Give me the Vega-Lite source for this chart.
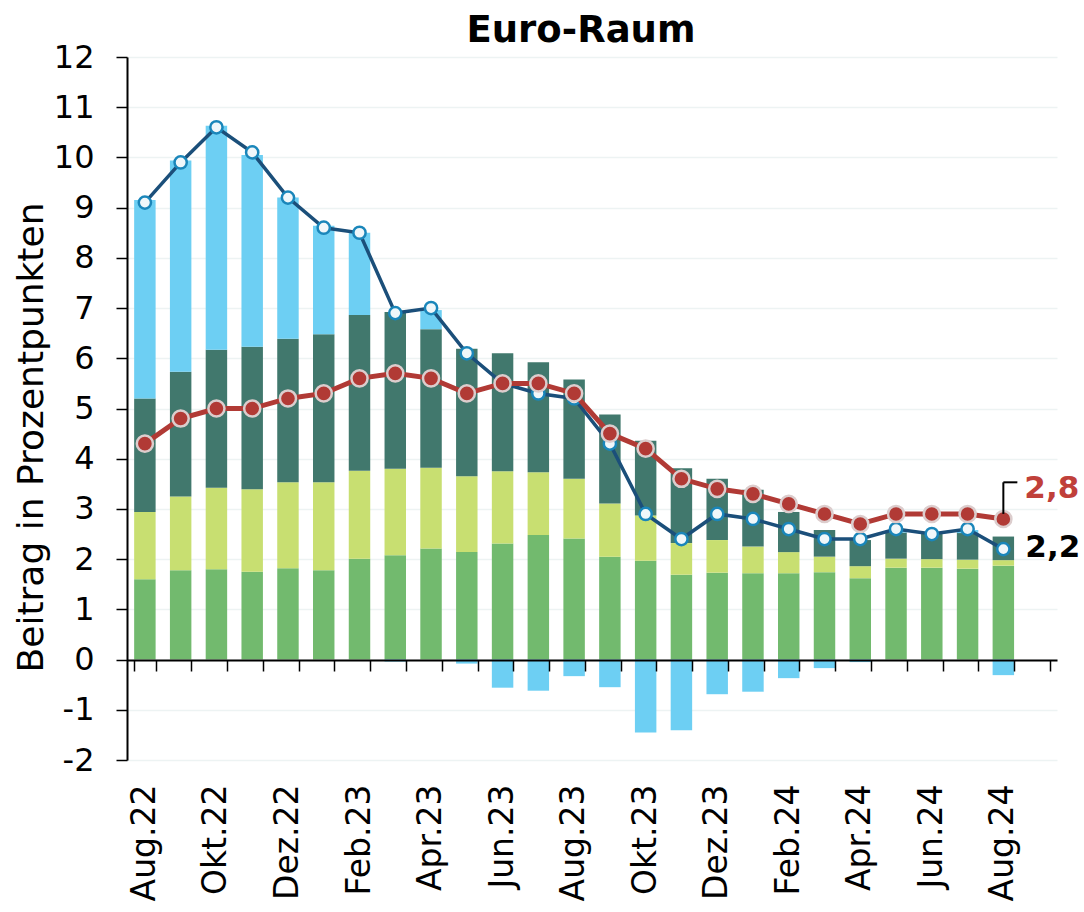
{
  "$schema": "https://vega.github.io/schema/vega-lite/v6.json",
  "width": 930,
  "height": 703,
  "autosize": {"type": "none"},
  "padding": {"left": 127, "top": 57, "right": 27, "bottom": 152},
  "background": "white",
  "title": {"text": "Euro-Raum", "font": "DejaVu Sans", "fontSize": 37, "fontWeight": "bold", "color": "black", "frame": "group", "anchor": "middle", "dx": -11, "offset": 14, "dy": 23},
  "config": {"view": {"stroke": null}, "font": "DejaVu Sans"},
  "data": {"values": [
    {"m": "Aug.22", "S": 1.60, "N": 1.34, "F": 2.26, "E": 3.95, "H": 9.1, "C": 4.3},
    {"m": "Sep.22", "S": 1.78, "N": 1.47, "F": 2.48, "E": 4.21, "H": 9.9, "C": 4.8},
    {"m": "Okt.22", "S": 1.80, "N": 1.62, "F": 2.75, "E": 4.46, "H": 10.6, "C": 5.0},
    {"m": "Nov.22", "S": 1.75, "N": 1.64, "F": 2.84, "E": 3.82, "H": 10.1, "C": 5.0},
    {"m": "Dez.22", "S": 1.82, "N": 1.71, "F": 2.86, "E": 2.81, "H": 9.2, "C": 5.2},
    {"m": "Jan.23", "S": 1.78, "N": 1.75, "F": 2.95, "E": 2.16, "H": 8.6, "C": 5.3},
    {"m": "Feb.23", "S": 2.01, "N": 1.75, "F": 3.10, "E": 1.64, "H": 8.5, "C": 5.6},
    {"m": "Mär.23", "S": 2.08, "N": 1.72, "F": 3.12, "E": -0.04, "H": 6.9, "C": 5.7},
    {"m": "Apr.23", "S": 2.21, "N": 1.61, "F": 2.76, "E": 0.38, "H": 7.0, "C": 5.6},
    {"m": "Mai.23", "S": 2.14, "N": 1.51, "F": 2.54, "E": -0.08, "H": 6.1, "C": 5.3},
    {"m": "Jun.23", "S": 2.31, "N": 1.44, "F": 2.35, "E": -0.56, "H": 5.5, "C": 5.5},
    {"m": "Jul.23", "S": 2.48, "N": 1.25, "F": 2.19, "E": -0.62, "H": 5.3, "C": 5.5},
    {"m": "Aug.23", "S": 2.41, "N": 1.19, "F": 1.98, "E": -0.33, "H": 5.2, "C": 5.3},
    {"m": "Sep.23", "S": 2.05, "N": 1.06, "F": 1.77, "E": -0.55, "H": 4.3, "C": 4.5},
    {"m": "Okt.23", "S": 1.97, "N": 0.90, "F": 1.49, "E": -1.45, "H": 2.9, "C": 4.2},
    {"m": "Nov.23", "S": 1.69, "N": 0.63, "F": 1.49, "E": -1.41, "H": 2.4, "C": 3.6},
    {"m": "Dez.23", "S": 1.73, "N": 0.65, "F": 1.22, "E": -0.69, "H": 2.9, "C": 3.4},
    {"m": "Jan.24", "S": 1.72, "N": 0.53, "F": 1.13, "E": -0.64, "H": 2.8, "C": 3.3},
    {"m": "Feb.24", "S": 1.72, "N": 0.42, "F": 0.80, "E": -0.37, "H": 2.6, "C": 3.1},
    {"m": "Mär.24", "S": 1.74, "N": 0.31, "F": 0.53, "E": -0.17, "H": 2.4, "C": 2.9},
    {"m": "Apr.24", "S": 1.62, "N": 0.24, "F": 0.52, "E": -0.05, "H": 2.4, "C": 2.7},
    {"m": "Mai.24", "S": 1.83, "N": 0.18, "F": 0.52, "E": 0.03, "H": 2.6, "C": 2.9},
    {"m": "Jun.24", "S": 1.83, "N": 0.17, "F": 0.50, "E": 0.0, "H": 2.5, "C": 2.9},
    {"m": "Jul.24", "S": 1.81, "N": 0.18, "F": 0.53, "E": 0.06, "H": 2.6, "C": 2.9},
    {"m": "Aug.24", "S": 1.87, "N": 0.11, "F": 0.47, "E": -0.31, "H": 2.2, "C": 2.8}
  ]},
  "resolve": {"scale": {"x": "shared", "y": "shared"}, "axis": {"x": "independent", "y": "shared"}},
  "layer": [
    {
      "transform": [{"fold": ["S", "N", "F", "E"], "as": ["k", "v"]}],
      "mark": {"type": "bar"},
      "encoding": {
        "x": {"field": "m", "type": "nominal", "sort": null,
          "scale": {"domain": ["Aug.22","Sep.22","Okt.22","Nov.22","Dez.22","Jan.23","Feb.23","Mär.23","Apr.23","Mai.23","Jun.23","Jul.23","Aug.23","Sep.23","Okt.23","Nov.23","Dez.23","Jan.24","Feb.24","Mär.24","Apr.24","Mai.24","Jun.24","Jul.24","Aug.24","Sep.24"], "paddingInner": 0.4, "paddingOuter": 0.2},
          "axis": {"orient": "bottom", "title": null, "domain": false, "ticks": false, "grid": false,
            "values": ["Aug.22","Okt.22","Dez.22","Feb.23","Apr.23","Jun.23","Aug.23","Okt.23","Dez.23","Feb.24","Apr.24","Jun.24","Aug.24"],
            "labelAngle": -90, "labelAlign": "right", "labelBaseline": "middle", "labelPadding": 24,
            "labelFont": "DejaVu Sans", "labelFontSize": 33, "labelColor": "black"}},
        "y": {"field": "v", "type": "quantitative", "stack": "zero", "title": "Beitrag in Prozentpunkten",
          "scale": {"domain": [-2, 12], "nice": false, "zero": false},
          "axis": {"values": [-2,-1,0,1,2,3,4,5,6,7,8,9,10,11,12], "labelExpr": "toString(datum.value)", "grid": true, "gridColor": "#EDF3F3", "gridWidth": 1.5,
            "domainColor": "black", "domainWidth": 2, "tickColor": "black", "tickWidth": 1.5, "tickSize": 11,
            "labelPadding": 22, "labelFont": "DejaVu Sans", "labelFontSize": 32, "labelColor": "black",
            "titleFont": "DejaVu Sans", "titleFontSize": 36, "titleFontWeight": "normal", "titleColor": "black",
            "titleX": -96, "titleY": 380, "titleAngle": -90, "titleBaseline": "middle", "titleAlign": "center"}},
        "color": {"field": "k", "type": "nominal", "sort": ["S", "N", "F", "E"],
          "scale": {"domain": ["S", "N", "F", "E"], "range": ["#72BA6E", "#C8DF71", "#41786D", "#6DCFF3"]},
          "legend": null}
      }
    },
    {
      "mark": {"type": "line", "color": "#1B4F7A", "strokeWidth": 3.5,
        "point": {"filled": true, "fill": "#F0F7FA", "stroke": "#1A86BA", "strokeWidth": 2.5, "size": 150}},
      "encoding": {
        "x": {"field": "m", "type": "nominal", "sort": null,
          "axis": {"orient": "bottom", "offset": -100, "labels": false, "title": null, "grid": false,
            "domainColor": "black", "domainWidth": 2, "tickColor": "black", "tickWidth": 1.5, "tickSize": 11,
            "tickBand": "extent", "zindex": 1}},
        "y": {"field": "H", "type": "quantitative", "title": "Beitrag in Prozentpunkten"}
      }
    },
    {
      "mark": {"type": "line", "color": "#B13A35", "strokeWidth": 5,
        "point": {"filled": true, "fill": "#B13A35", "stroke": "#DCCDCD", "strokeWidth": 2.5, "size": 260}},
      "encoding": {
        "x": {"field": "m", "type": "nominal", "sort": null, "axis": null},
        "y": {"field": "C", "type": "quantitative", "title": "Beitrag in Prozentpunkten"}
      }
    },
    {
      "data": {"values": [{"m": "Aug.24", "y": 2.9, "y2": 3.53}]},
      "mark": {"type": "rule", "color": "black", "strokeWidth": 2},
      "encoding": {
        "x": {"field": "m", "type": "nominal", "axis": null},
        "y": {"field": "y", "type": "quantitative", "title": "Beitrag in Prozentpunkten"},
        "y2": {"field": "y2"}
      }
    },
    {
      "data": {"values": [{"m": "Aug.24", "y": 3.53}]},
      "mark": {"type": "rule", "color": "black", "strokeWidth": 2, "x2Offset": 14},
      "encoding": {
        "x": {"field": "m", "type": "nominal", "axis": null},
        "x2": {"field": "m"},
        "y": {"field": "y", "type": "quantitative", "title": "Beitrag in Prozentpunkten"}
      }
    },
    {
      "data": {"values": [{"m": "Aug.24", "y": 3.39, "t": "2,8"}]},
      "mark": {"type": "text", "align": "left", "baseline": "middle", "dx": 21, "font": "DejaVu Sans", "fontWeight": "bold", "fontSize": 31, "color": "#C0403A"},
      "encoding": {
        "x": {"field": "m", "type": "nominal", "axis": null},
        "y": {"field": "y", "type": "quantitative", "title": "Beitrag in Prozentpunkten"},
        "text": {"field": "t"}
      }
    },
    {
      "data": {"values": [{"m": "Aug.24", "y": 2.22, "t": "2,2"}]},
      "mark": {"type": "text", "align": "left", "baseline": "middle", "dx": 22, "font": "DejaVu Sans", "fontWeight": "bold", "fontSize": 31, "color": "#000000"},
      "encoding": {
        "x": {"field": "m", "type": "nominal", "axis": null},
        "y": {"field": "y", "type": "quantitative", "title": "Beitrag in Prozentpunkten"},
        "text": {"field": "t"}
      }
    }
  ]
}
